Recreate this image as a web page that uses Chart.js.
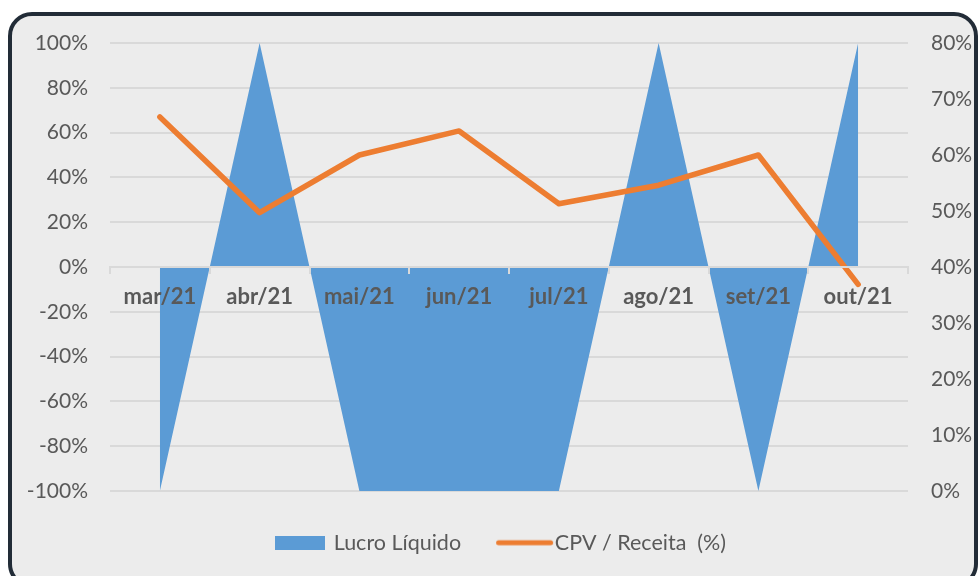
<!DOCTYPE html>
<html>
<head>
<meta charset="utf-8">
<script src="https://cdn.jsdelivr.net/npm/chart.js@4.4.0/dist/chart.umd.min.js"></script>
<style>
  html, body { margin: 0; padding: 0; background: #ffffff; }
  #wrap { position: relative; width: 979px; height: 576px; overflow: hidden; }
  #frame {
    position: absolute; left: 8px; top: 12px; width: 962px; height: 568px;
    border: 4px solid #222c37; border-radius: 24px; background: #ececec;
  }
  #chart { position: absolute; left: 0; top: 0; }
</style>
</head>
<body>
<div id="wrap">
  <div id="frame"></div>
  <canvas id="chart" width="979" height="576"></canvas>
</div>
<script>
// dados
const meses = ["mar/21", "abr/21", "mai/21", "jun/21", "jul/21", "ago/21", "set/21", "out/21"]
const lucroLiquido = [-100, 100, -100, -100, -100, 100, -100, 100]
const cpvReceita = [66.8, 49.7, 60.0, 64.3, 51.3, 54.6, 60.0, 36.9]

const AZUL = "#5b9bd5"
const LARANJA = "#ed7d31"
const CINZA_TEXTO = "#595959"
const CINZA_GRADE = "#d9d9d9"

Chart.defaults.font.family = "Lato, 'Open Sans', sans-serif"
Chart.defaults.color = CINZA_TEXTO

// símbolos da legenda (retângulo azul e traço laranja)
function legendaArea() {
  const c = document.createElement("canvas")
  c.width = 74
  c.height = 14
  const g = c.getContext("2d")
  g.fillStyle = AZUL
  g.fillRect(24, 0, 50, 14)
  return c
}

function legendaLinha() {
  const c = document.createElement("canvas")
  c.width = 90
  c.height = 8
  const g = c.getContext("2d")
  g.strokeStyle = LARANJA
  g.lineWidth = 5
  g.lineCap = "round"
  g.beginPath()
  g.moveTo(34.5, 4)
  g.lineTo(86.5, 4)
  g.stroke()
  return c
}

const simbolos = [legendaArea(), legendaLinha()]

new Chart(document.getElementById("chart"), {
  type: "line",
  data: {
    labels: meses,
    datasets: [
      {
        label: "Lucro Líquido",
        data: lucroLiquido,
        yAxisID: "y",
        order: 2,
        fill: "origin",
        backgroundColor: AZUL,
        borderColor: "rgba(0,0,0,0)",
        borderWidth: 0,
        pointRadius: 0,
        tension: 0,
      },
      {
        label: "CPV / Receita  (%)",
        data: cpvReceita,
        yAxisID: "y1",
        order: 1,
        fill: false,
        borderColor: LARANJA,
        backgroundColor: LARANJA,
        borderWidth: 5.5,
        borderCapStyle: "round",
        borderJoinStyle: "round",
        pointRadius: 0,
        tension: 0,
      },
    ],
  },
  options: {
    responsive: false,
    animation: false,
    layout: {
      padding: { top: 43, left: 0, right: 0, bottom: 12.5 },
    },
    plugins: {
      tooltip: { enabled: false },
      legend: {
        position: "bottom",
        title: { display: true, text: "", font: { size: 10 }, padding: { top: 0, bottom: 16 } },
        labels: {
          usePointStyle: true,
          pointStyleWidth: 70,
          padding: 13,
          color: CINZA_TEXTO,
          font: { size: 21.5 },
          generateLabels: (chart) =>
            chart.data.datasets.map((ds, i) => ({
              text: ds.label,
              pointStyle: simbolos[i],
              fillStyle: "transparent",
              strokeStyle: "transparent",
              lineWidth: 0,
              datasetIndex: i,
              fontColor: CINZA_TEXTO,
            })),
        },
      },
    },
    scales: {
      x: {
        type: "category",
        position: { y: 0 },
        offset: true,
        grid: {
          display: true,
          offset: true,
          drawOnChartArea: false,
          drawTicks: true,
          tickLength: 6,
          color: CINZA_GRADE,
          lineWidth: 2,
          z: 1,
        },
        border: { display: true, color: CINZA_GRADE, width: 2, z: 1 },
        ticks: {
          autoSkip: false,
          maxRotation: 0,
          padding: 11,
          color: CINZA_TEXTO,
          font: { size: 22, weight: "bold" },
          z: 1,
        },
      },
      y: {
        position: "left",
        min: -100,
        max: 100,
        afterFit: (scale) => { scale.width = 110 },
        grid: { color: CINZA_GRADE, lineWidth: 2, drawTicks: false },
        border: { display: false },
        ticks: {
          stepSize: 20,
          padding: 22,
          color: CINZA_TEXTO,
          font: { size: 21 },
          callback: (v) => v + "%",
        },
      },
      y1: {
        position: "right",
        min: 0,
        max: 80,
        afterFit: (scale) => { scale.width = 71 },
        grid: { drawOnChartArea: false, drawTicks: false },
        border: { display: false },
        ticks: {
          stepSize: 10,
          padding: 23,
          color: CINZA_TEXTO,
          font: { size: 21 },
          callback: (v) => v + "%",
        },
      },
    },
  },
})
</script>
</body>
</html>
